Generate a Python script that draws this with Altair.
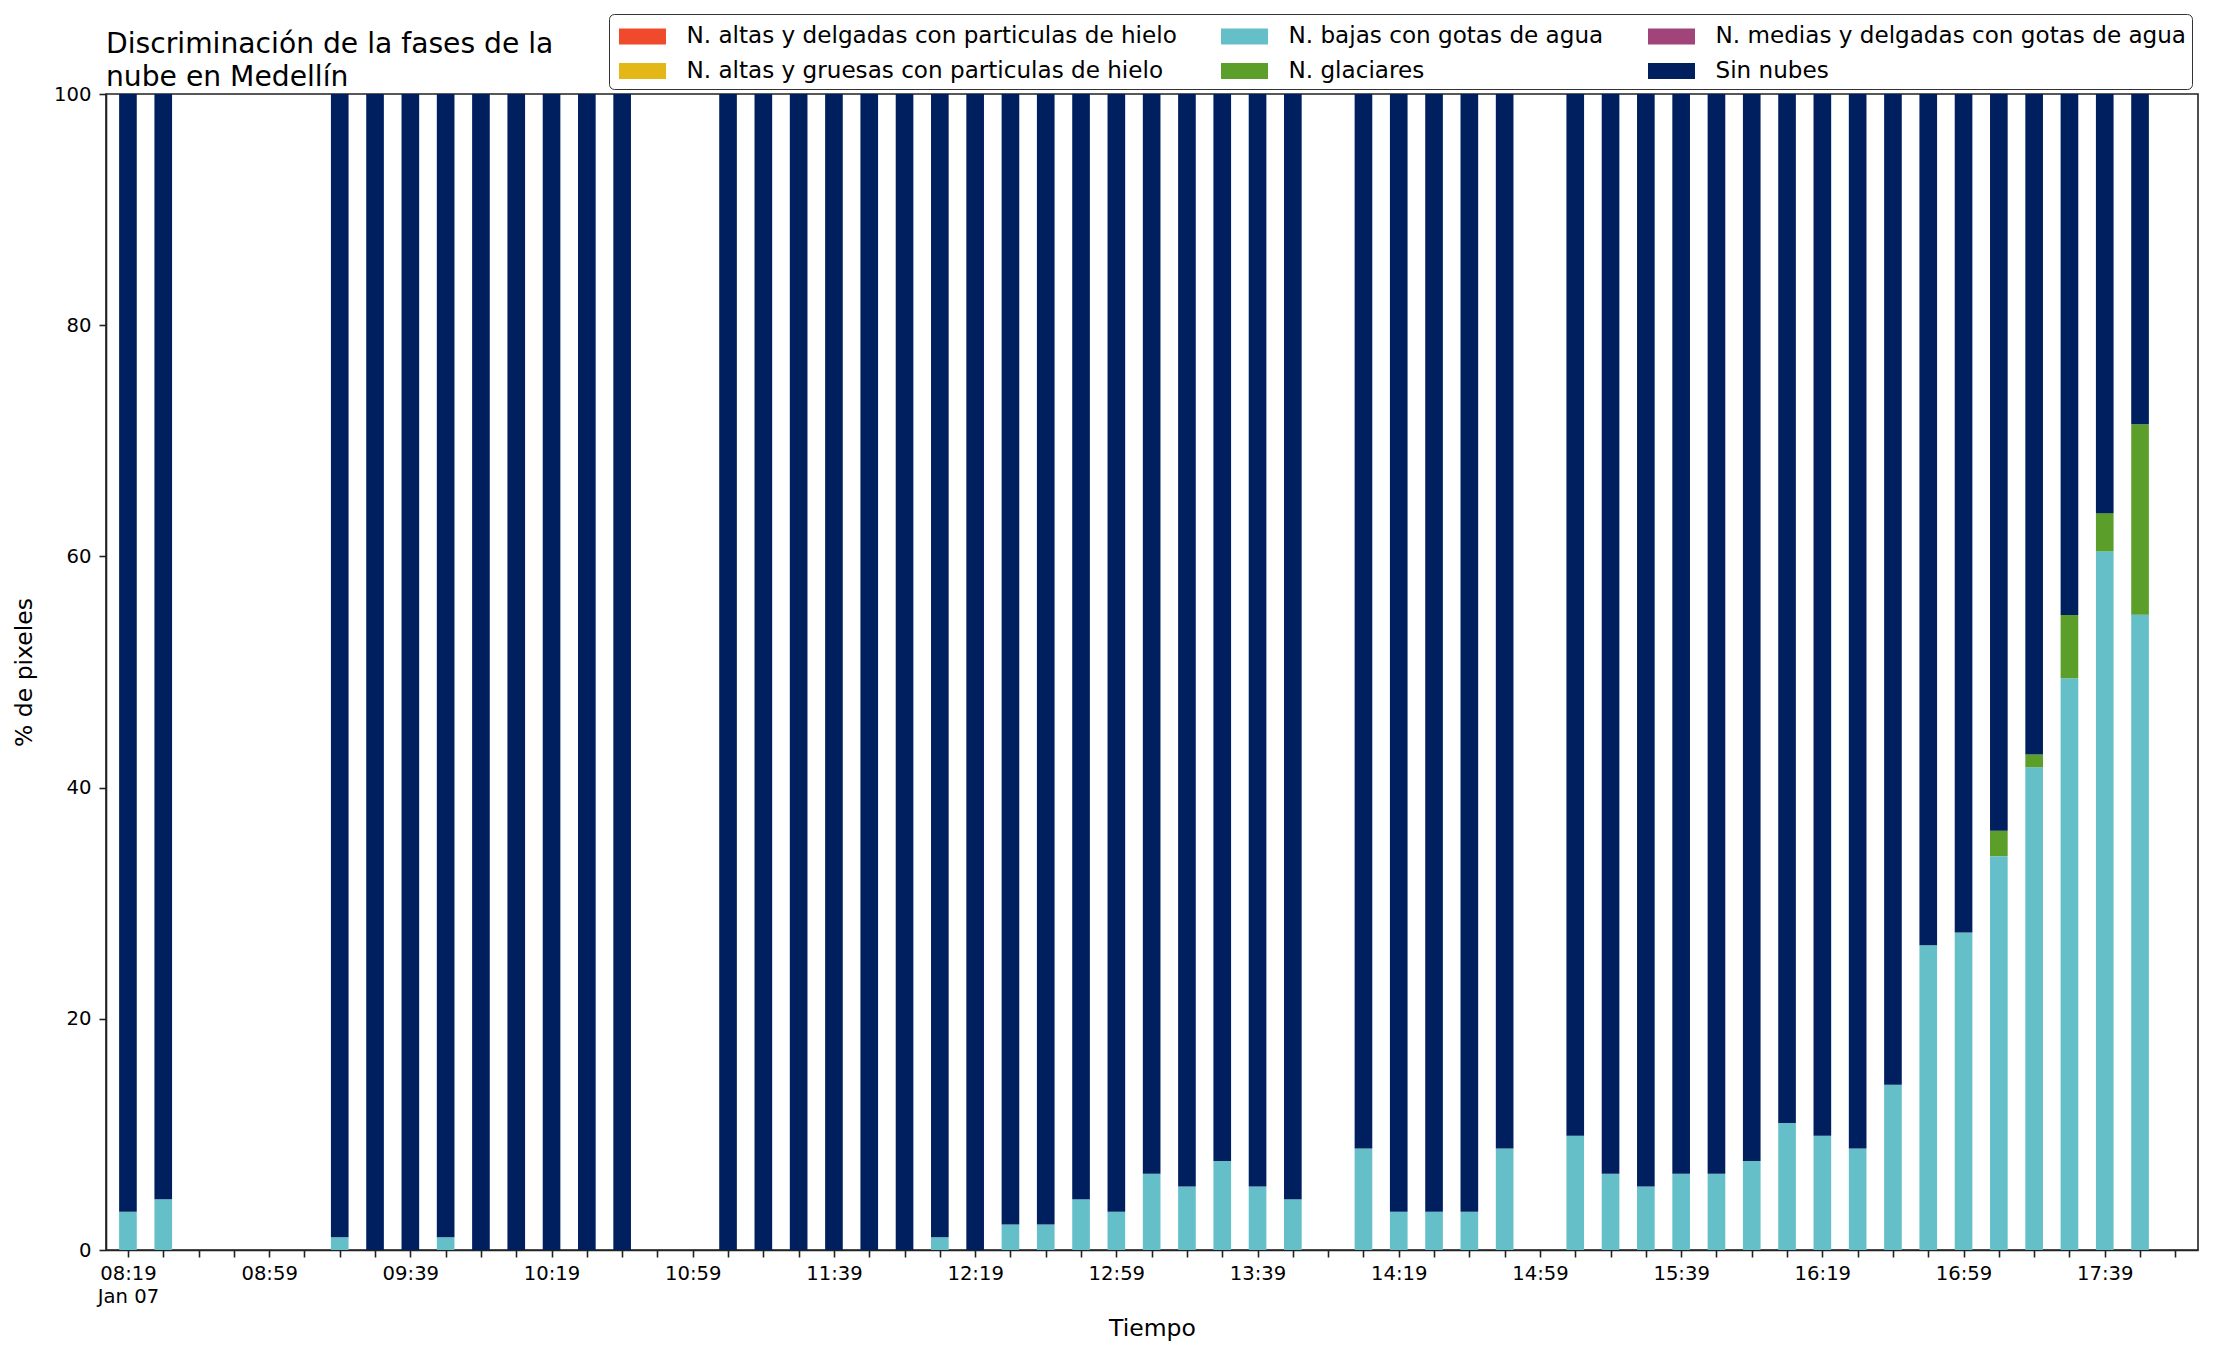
import altair as alt
import pandas as pd
from datetime import datetime, timezone

# ---- data ----
times = ["08:19", "08:29",
         "09:19", "09:29", "09:39", "09:49", "09:59", "10:09", "10:19", "10:29", "10:39",
         "11:09", "11:19", "11:29", "11:39", "11:49", "11:59", "12:09", "12:19", "12:29", "12:39",
         "12:49", "12:59", "13:09", "13:19", "13:29", "13:39", "13:49",
         "14:09", "14:19", "14:29", "14:39", "14:49",
         "15:09", "15:19", "15:29", "15:39", "15:49", "15:59", "16:09", "16:19", "16:29", "16:39",
         "16:49", "16:59", "17:09", "17:19", "17:29", "17:39", "17:49"]

altas_delgadas = [0, 0,
                  0, 0, 0, 0, 0, 0, 0, 0, 0,
                  0, 0, 0, 0, 0, 0, 0, 0, 0, 0,
                  0, 0, 0, 0, 0, 0, 0,
                  0, 0, 0, 0, 0,
                  0, 0, 0, 0, 0, 0, 0, 0, 0, 0,
                  0, 0, 0, 0, 0, 0, 0]
altas_gruesas = [0, 0,
                 0, 0, 0, 0, 0, 0, 0, 0, 0,
                 0, 0, 0, 0, 0, 0, 0, 0, 0, 0,
                 0, 0, 0, 0, 0, 0, 0,
                 0, 0, 0, 0, 0,
                 0, 0, 0, 0, 0, 0, 0, 0, 0, 0,
                 0, 0, 0, 0, 0, 0, 0]
bajas = [3.30, 4.40,
         1.10, 0, 0, 1.10, 0, 0, 0, 0, 0,
         0, 0, 0, 0, 0, 0, 1.10, 0, 2.20, 2.20,
         4.40, 3.30, 6.59, 5.49, 7.69, 5.49, 4.40,
         8.79, 3.30, 3.30, 3.30, 8.79,
         9.89, 6.59, 5.49, 6.59, 6.59, 7.69, 10.99, 9.89, 8.79, 14.29,
         26.37, 27.47, 34.07, 41.76, 49.45, 60.44, 54.95]
glaciares = [0, 0,
             0, 0, 0, 0, 0, 0, 0, 0, 0,
             0, 0, 0, 0, 0, 0, 0, 0, 0, 0,
             0, 0, 0, 0, 0, 0, 0,
             0, 0, 0, 0, 0,
             0, 0, 0, 0, 0, 0, 0, 0, 0, 0,
             0, 0, 2.20, 1.10, 5.49, 3.30, 16.48]
medias = [0, 0,
          0, 0, 0, 0, 0, 0, 0, 0, 0,
          0, 0, 0, 0, 0, 0, 0, 0, 0, 0,
          0, 0, 0, 0, 0, 0, 0,
          0, 0, 0, 0, 0,
          0, 0, 0, 0, 0, 0, 0, 0, 0, 0,
          0, 0, 0, 0, 0, 0, 0]
sin_nubes = [96.70, 95.60,
             98.90, 100, 100, 98.90, 100, 100, 100, 100, 100,
             100, 100, 100, 100, 100, 100, 98.90, 100, 97.80, 97.80,
             95.60, 96.70, 93.41, 94.51, 92.31, 94.51, 95.60,
             91.21, 96.70, 96.70, 96.70, 91.21,
             90.11, 93.41, 94.51, 93.41, 93.41, 92.31, 89.01, 90.11, 91.21, 85.71,
             73.63, 72.53, 63.74, 57.14, 45.05, 36.26, 28.57]

series_names = ["N. altas y delgadas con particulas de hielo",
                "N. altas y gruesas con particulas de hielo",
                "N. bajas con gotas de agua",
                "N. glaciares",
                "N. medias y delgadas con gotas de agua",
                "Sin nubes"]
series_values = [altas_delgadas, altas_gruesas, bajas, glaciares, medias, sin_nubes]
series_colors = ["#F04A2D", "#E3B716", "#65BFC9", "#5B9E29", "#A04479", "#001F5F"]

tick_labels_start = "08:19"
tick_labels_end = "17:59"


def ms(hhmm):
    h, m = map(int, hhmm.split(":"))
    return int(datetime(2023, 1, 7, h, m, tzinfo=timezone.utc).timestamp() * 1000)


HALF = 150000  # half bar width (2.5 min)
rows = []
for idx, (name, vals) in enumerate(zip(series_names, series_values)):
    for t, v in zip(times, vals):
        c = ms(t)
        rows.append({"start": c - HALF, "end": c + HALF, "serie": name, "value": v, "ord": idx})
df = pd.DataFrame(rows)

t0 = ms(tick_labels_start)
t1 = ms(tick_labels_end)
tick_vals = list(range(t0, t1 + 1, 600000))
dmin = t0 - int(0.48 * 600000)
dmax = t1 + int(0.5 * 600000)

label_expr = (
    f"((+datum.value) - {t0}) % 2400000 === 0 ? "
    f"((+datum.value) === {t0} ? [utcFormat(datum.value, '%H:%M'), 'Jan 07'] : utcFormat(datum.value, '%H:%M')) : ''"
)

FONT = "DejaVu Sans"
INK = "#222222"

chart = alt.Chart(df).transform_stack(
    stack="value", groupby=["start"], sort=[alt.SortField("ord", order="ascending")],
    as_=["y0", "y1"], offset="zero"
).mark_bar(orient="vertical").encode(
    x=alt.X("start:T",
            title="Tiempo",
            scale=alt.Scale(type="utc", domain=[dmin, dmax], nice=False),
            axis=alt.Axis(values=tick_vals, labelExpr=label_expr, labelOverlap=False,
                          labelFlush=False, grid=False, tickSize=7, tickWidth=1.6,
                          tickColor=INK, domainColor=INK, domainWidth=1.6,
                          labelFont=FONT, labelFontSize=19.6, labelColor="black",
                          labelPadding=7, labelLineHeight=23.5, labelAngle=0,
                          titleFont=FONT, titleFontSize=23.5, titleFontWeight="normal",
                          titleColor="black", titlePadding=10)),
    x2="end:T",
    y=alt.Y("y0:Q",
            title="% de pixeles",
            scale=alt.Scale(domain=[0, 100], nice=False),
            axis=alt.Axis(values=[0, 20, 40, 60, 80, 100], grid=False, tickSize=7,
                          tickWidth=1.6, tickColor=INK, domainColor=INK, domainWidth=1.6,
                          labelFont=FONT, labelFontSize=19.6, labelColor="black",
                          labelPadding=8, titleFont=FONT, titleFontSize=23.5,
                          titleFontWeight="normal", titleColor="black", titlePadding=17)),
    y2="y1:Q",
    color=alt.Color("serie:N",
                    scale=alt.Scale(domain=series_names, range=series_colors),
                    legend=alt.Legend(orient="none", legendX=503, legendY=-80, columns=3,
                                      title=None,
                                      symbolType="M-1.382,-0.47H1.382V0.47H-1.382Z",
                                      symbolSize=1156, symbolStrokeWidth=0,
                                      symbolOpacity=1, symbolOffset=11.5,
                                      labelOffset=27, labelFont=FONT, labelFontSize=23.1,
                                      labelColor="black", labelLimit=0,
                                      columnPadding=39, rowPadding=5, padding=5,
                                      strokeColor="#333333", cornerRadius=5,
                                      fillColor="white")),
).properties(
    width=2092,
    height=1156,
    title=alt.TitleParams(text=["Discriminación de la fases de la", "nube en Medellín"],
                          anchor="start", frame="group", font=FONT, fontSize=28.2,
                          fontWeight="normal", color="black", lineHeight=33,
                          baseline="bottom", offset=3, dy=110),
    autosize=alt.AutoSizeParams(type="none"),
    padding={"left": 98, "top": 86, "right": 10, "bottom": 97},
).configure_view(stroke=INK, strokeWidth=1.6)

chart.save("out.html", embed_options={"renderer": "svg", "actions": False})
